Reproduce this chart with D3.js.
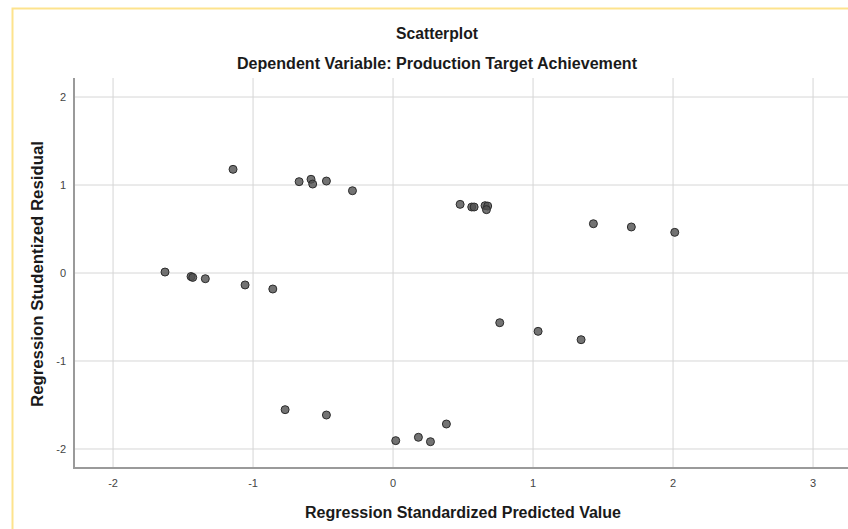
<!DOCTYPE html>
<html>
<head>
<meta charset="utf-8">
<script src="https://cdn.jsdelivr.net/npm/d3@7"></script>
<style>
  body { margin: 0; background: #fff; }
  svg text { font-family: "Liberation Sans", Arial, sans-serif; }
</style>
</head>
<body>
<svg width="848" height="529"></svg>
<script>
// Predicted value (x) and studentized residual (y) per case
const predicted = [-1.629, -1.443, -1.431, -1.341, -1.057, -0.859, -1.143, -0.671, -0.586, -0.574,
  -0.476, -0.290, 0.479, 0.562, 0.579, 0.657, 0.676, 0.667, 1.431, 1.702,
  2.012, 0.762, 1.036, 1.343, -0.771, -0.476, 0.019, 0.181, 0.267, 0.381];
const residual = [0.011, -0.04, -0.05, -0.065, -0.136, -0.182, 1.178, 1.038, 1.065, 1.011,
  1.045, 0.935, 0.780, 0.75, 0.75, 0.765, 0.761, 0.72, 0.56, 0.523,
  0.462, -0.565, -0.663, -0.758, -1.553, -1.614, -1.905, -1.867, -1.917, -1.716];
const xTicks = [-2, -1, 0, 1, 2, 3];
const yTicks = [-2, -1, 0, 1, 2];

const svg = d3.select("svg");

// yellow frame of the output viewer
svg.append("rect")
    .attr("x", 12.5).attr("y", 8.5)
    .attr("width", 900).attr("height", 600)
    .attr("fill", "none")
    .attr("stroke", "#fde38d")
    .attr("stroke-width", 2);

const plotLeft = 74, plotTop = 78, plotBottom = 468;
const x = d3.scaleLinear().domain([-2.279, 3.33]).range([plotLeft, plotLeft + 5.609 * 140]);
const y = d3.scaleLinear().domain([-2.216, 2.216]).range([plotBottom, plotTop]);

// grid
svg.append("g").selectAll("line")
    .data(xTicks)
    .enter()
    .append("line")
    .attr("x1", d => x(d)).attr("x2", d => x(d))
    .attr("y1", plotTop).attr("y2", plotBottom)
    .attr("stroke", "#d6d6d6");
svg.append("g").selectAll("line")
    .data(yTicks)
    .enter()
    .append("line")
    .attr("x1", plotLeft).attr("x2", 860)
    .attr("y1", d => y(d)).attr("y2", d => y(d))
    .attr("stroke", "#d6d6d6");

// axis lines
svg.append("line")
    .attr("x1", plotLeft).attr("x2", plotLeft).attr("y1", plotTop).attr("y2", plotBottom + 1)
    .attr("stroke", "#9a9a9a").attr("stroke-width", 2);
svg.append("line")
    .attr("x1", plotLeft - 1).attr("x2", 860).attr("y1", plotBottom).attr("y2", plotBottom)
    .attr("stroke", "#9a9a9a").attr("stroke-width", 2);

// tick labels
svg.append("g").selectAll("text")
    .data(yTicks)
    .enter()
    .append("text")
    .attr("x", 66)
    .attr("y", d => y(d) + 4)
    .attr("text-anchor", "end")
    .attr("font-size", 11)
    .attr("fill", "#444")
    .text(d => d);
svg.append("g").selectAll("text")
    .data(xTicks)
    .enter()
    .append("text")
    .attr("x", d => x(d))
    .attr("y", 487)
    .attr("text-anchor", "middle")
    .attr("font-size", 11)
    .attr("fill", "#444")
    .text(d => d);

// titles (widths fitted to the original condensed face)
function label(txt, px, py, size, len, rot) {
    return svg.append("text")
        .attr("transform", "translate(" + px + "," + py + ")" + (rot ? " rotate(-90)" : ""))
        .attr("text-anchor", "middle")
        .attr("font-size", size).attr("font-weight", "bold")
        .attr("fill", "#1a1a1a")
        .attr("textLength", len)
        .attr("lengthAdjust", "spacingAndGlyphs")
        .text(txt);
}
label("Scatterplot", 437, 39, 16, 82);
label("Dependent Variable: Production Target Achievement", 437, 69, 16, 400);
label("Regression Standardized Predicted Value", 463, 518, 16, 316);
label("Regression Studentized Residual", 43, 274, 16, 266, true);

// points
svg.append("g").selectAll("circle")
    .data(predicted.map((p, i) => [p, residual[i]]))
    .enter()
    .append("circle")
    .attr("cx", d => x(d[0]))
    .attr("cy", d => y(d[1]))
    .attr("r", 4)
    .attr("fill", "rgba(80,80,80,0.8)")
    .attr("stroke", "#2b2b2b")
    .attr("stroke-width", 1);
</script>
</body>
</html>
